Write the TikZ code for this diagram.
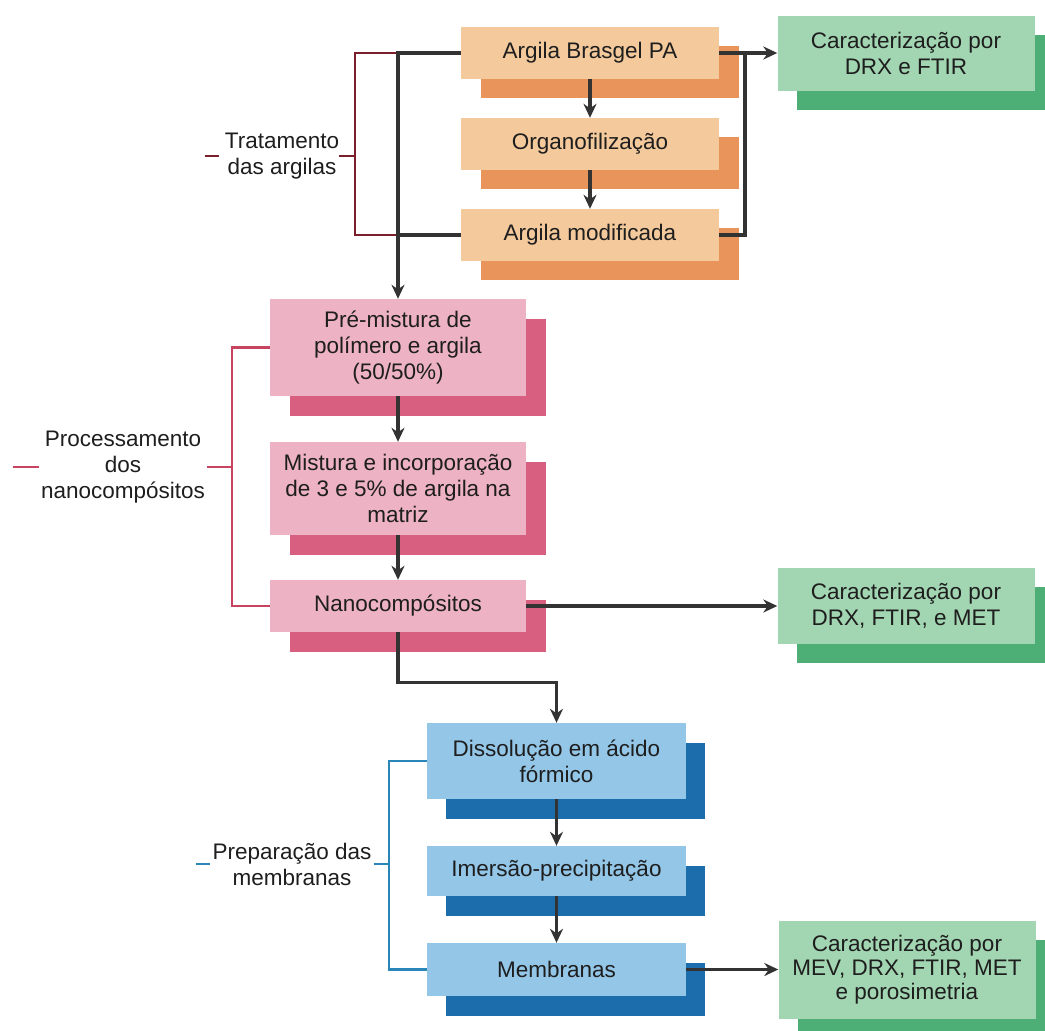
\documentclass[tikz,border=0pt]{standalone}
\usepackage{fontspec}
\setmainfont{Liberation Sans}
\usetikzlibrary{shadows,arrows.meta}
\definecolor{orfront}{HTML}{F4C99C}
\definecolor{orshadow}{HTML}{E9945A}
\definecolor{pkfront}{HTML}{EDB2C3}
\definecolor{pkshadow}{HTML}{D85F80}
\definecolor{blfront}{HTML}{93C6E7}
\definecolor{blshadow}{HTML}{1B6EAB}
\definecolor{grfront}{HTML}{A2D5B1}
\definecolor{grshadow}{HTML}{4DAF76}
\definecolor{brred}{HTML}{7A1F2B}
\definecolor{brpink}{HTML}{C8435F}
\definecolor{brblue}{HTML}{2A86B8}
\definecolor{arrowc}{HTML}{333333}
\definecolor{txtc}{HTML}{1E1E1E}
\tikzset{
  box/.style={rectangle, inner sep=0pt, align=center, text=txtc,
    font=\fontsize{22.5}{26}\selectfont},
  orbox/.style={box, fill=orfront, minimum width=258pt, minimum height=52pt,
    drop shadow={shadow xshift=20pt, shadow yshift=-19pt, fill=orshadow, opacity=1}},
  pkbox/.style={box, fill=pkfront, minimum width=256pt,
    drop shadow={shadow xshift=20pt, shadow yshift=-20pt, fill=pkshadow, opacity=1}},
  blbox/.style={box, fill=blfront, minimum width=259pt,
    drop shadow={shadow xshift=19pt, shadow yshift=-20pt, fill=blshadow, opacity=1}},
  grbox/.style={box, fill=grfront, minimum width=257pt,
    drop shadow={shadow xshift=19pt, shadow yshift=-19pt, fill=grshadow, opacity=1}},
  flow/.style={draw=arrowc, line width=3.2pt, -{Stealth[length=14pt,width=13pt]}},
  flowline/.style={draw=arrowc, line width=3.2pt},
  grouplabel/.style={inner sep=0pt, align=center, text=txtc,
    font=\fontsize{22.5}{26}\selectfont},
  brk/.style={line width=2.2pt}
}
\begin{document}
\begin{tikzpicture}[x=1pt,y=-1pt]
\useasboundingbox (0,0) rectangle (1045,1031);
% orange
\node[orbox] (a1) at (590,53) {Argila Brasgel PA};
\node[orbox] (a2) at (590,144) {Organofilização};
\node[orbox] (a3) at (590,235) {Argila modificada};
% green
\node[grbox, minimum height=75pt] (g1) at (906,53) {Caracterização por\\DRX e FTIR};
\node[grbox, minimum height=76pt] (g2) at (906,606) {Caracterização por\\DRX, FTIR, e MET};
\node[grbox, minimum height=98pt, font=\fontsize{22.5}{24}\selectfont] (g3) at (907,969.5) {Caracterização por\\MEV, DRX, FTIR, MET\\e porosimetria};
% pink
\node[pkbox, minimum height=97pt] (p1) at (398,347.5) {Pré-mistura de\\polímero e argila\\(50/50\%)};
\node[pkbox, minimum height=93pt] (p2) at (398,488.5) {Mistura e incorporação\\de 3 e 5\% de argila na\\matriz};
\node[pkbox, minimum height=52pt] (p3) at (398,606) {Nanocompósitos};
% blue
\node[blbox, minimum height=76pt] (b1) at (556.5,761) {Dissolução em ácido\\fórmico};
\node[blbox, minimum height=50pt] (b2) at (556.5,871) {Imersão-precipitação};
\node[blbox, minimum height=53pt] (b3) at (556.5,969.5) {Membranas};
% group labels
\node[grouplabel] (lt) at (282,156) {Tratamento\\das argilas};
\node[grouplabel] (lp) at (123,467) {Processamento\\dos\\nanocompósitos};
\node[grouplabel] (lb) at (292,864) {Preparação das\\membranas};
% brackets
\draw[brk, brred] (a1.west) -- ++(-106,0) coordinate (tbt) |- (a3.west);
\coordinate (tbm) at (tbt |- lt.east);
\draw[brk, brred] (lt.east) -- (tbm);
\draw[brk, brred] ([xshift=-20pt]lt.west) -- ([xshift=-6pt]lt.west);
\draw[brk, brpink] (p1.west) -- ++(-38,0) coordinate (pbt) |- (p3.west);
\draw[brk, brpink] ([xshift=2pt]lp.east) -- (pbt |- lp.east);
\draw[brk, brpink] ([xshift=-28pt]lp.west) -- ([xshift=-2pt]lp.west);
\draw[brk, brblue] (b1.west) -- ++(-38,0) coordinate (bbt) |- (b3.west);
\draw[brk, brblue] ([xshift=2pt]lb.east) -- (bbt |- lb.east);
\draw[brk, brblue] ([xshift=-16pt]lb.west) -- ([xshift=-2pt]lb.west);
% flows
\draw[flow] (a1.south) -- (a2.north);
\draw[flow] (a2.south) -- (a3.north);
\draw[flow] (a1.west) -| (p1.north);
\draw[flowline] (a3.west) -- (a3.west -| p1.north);
\draw[flow] (a1.east) -- (g1.west);
\coordinate (rj) at (745,53);
\draw[flowline] (a3.east) -| (rj);
\draw[flow] (p1.south) -- (p2.north);
\draw[flow] (p2.south) -- (p3.north);
\draw[flow] (p3.east) -- (g2.west);
\draw[flow] (p3.south) -- ++(0,50) -| (b1.north);
\draw[flow] (b1.south) -- (b2.north);
\draw[flow] (b2.south) -- (b3.north);
\draw[flow] (b3.east) -- (g3.west);
\end{tikzpicture}
\end{document}
